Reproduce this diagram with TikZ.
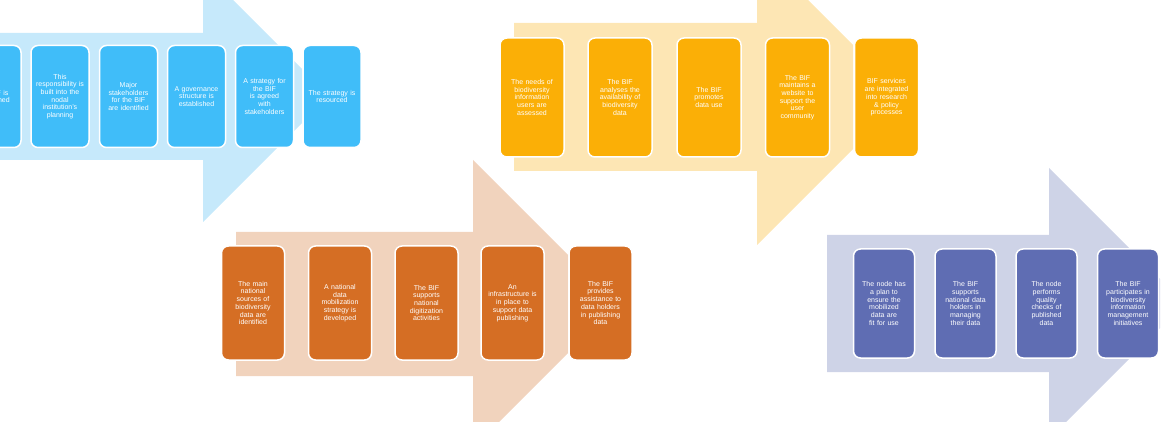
\documentclass[tikz,border=0pt]{standalone}
\usepackage{fontspec}
\setmainfont{Liberation Sans}
\definecolor{bA}{HTML}{C6E9FB}\definecolor{bB}{HTML}{40BDF9}
\definecolor{oA}{HTML}{FDE6B4}\definecolor{oB}{HTML}{FBAF06}
\definecolor{rA}{HTML}{F1D3BD}\definecolor{rB}{HTML}{D56E24}
\definecolor{pA}{HTML}{CED3E7}\definecolor{pB}{HTML}{5F6DB3}
\begin{document}
\begin{tikzpicture}[x=1pt,y=-1pt,
  box/.style={draw=white,line width=1.5pt,rounded corners=7pt,text=white,align=center,
    font=\fontsize{7}{7.7}\selectfont,inner sep=1pt},
  bbox/.style={box,fill=bB,minimum width=58pt,minimum height=102pt,text width=56pt},
  obox/.style={box,fill=oB,minimum width=64pt,minimum height=119pt,text width=60pt},
  rbox/.style={box,fill=rB,minimum width=63pt,minimum height=114pt,text width=60pt},
  pbox/.style={box,fill=pB,minimum width=61pt,minimum height=109pt,text width=58pt}]
\useasboundingbox (0,0) rectangle (1170,422);
\clip (0,0) rectangle (1170,422);
\fill[bA] (-5,33)--(203,33)--(203,-30)--(302,69)--(302,123)--(203,222)--(203,160)--(-5,160)--cycle;
\fill[oA] (514,23)--(757,23)--(757,-51)--(853,45)--(853,149)--(757,245)--(757,171)--(514,171)--cycle;
\fill[rA] (236,232)--(473,232)--(473,160)--(568,255)--(568,353)--(473,448)--(473,376)--(236,376)--cycle;
\fill[pA] (827,235)--(1049,235)--(1049,168)--(1160,279)--(1160,328)--(1049,439)--(1049,372)--(827,372)--cycle;
% blue
\node[bbox] (b1) at (-8,96.5) {The BIF is\\established};
\node[bbox] (b2) at (60,96.5) {This\\responsibility is\\built into the\\nodal\\institution's\\planning};
\node[bbox] (b3) at (128.5,96.5) {Major\\stakeholders\\for the BIF\\are identified};
\node[bbox] (b4) at (196.5,96.5) {A governance\\structure is\\established};
\node[bbox] (b5) at (264.5,96.5) {A strategy for\\the BIF\\is agreed\\with\\stakeholders};
\node[bbox] (b6) at (332,96.5) {The strategy is\\resourced};
% orange
\node[obox] (o1) at (532,97.5) {The needs of\\biodiversity\\information\\users are\\assessed};
\node[obox] (o2) at (620,97.5) {The BIF\\analyses the\\availability of\\biodiversity\\data};
\node[obox] (o3) at (709,97.5) {The BIF\\promotes\\data use};
\node[obox] (o4) at (797.5,97.5) {The BIF\\maintains a\\website to\\support the\\user\\community};
\node[obox] (o5) at (886.5,97.5) {BIF services\\are integrated\\into research\\\& policy\\processes};
% brown
\node[rbox] (r1) at (253,303) {The main\\national\\sources of\\biodiversity\\data are\\identified};
\node[rbox] (r2) at (340,303) {A national\\data\\mobilization\\strategy is\\developed};
\node[rbox] (r3) at (426.5,303) {The BIF\\supports\\national\\digitization\\activities};
\node[rbox] (r4) at (512.5,303) {An\\infrastructure is\\in place to\\support data\\publishing};
\node[rbox] (r5) at (600.5,303) {The BIF\\provides\\assistance to\\data holders\\in publishing\\data};
% purple
\node[pbox] (p1) at (884,303.5) {The node has\\a plan to\\ensure the\\mobilized\\data are\\fit for use};
\node[pbox] (p2) at (965.5,303.5) {The BIF\\supports\\national data\\holders in\\managing\\their data};
\node[pbox] (p3) at (1046.5,303.5) {The node\\performs\\quality\\checks of\\published\\data};
\node[pbox] (p4) at (1128,303.5) {The BIF\\participates in\\biodiversity\\information\\management\\initiatives};
\end{tikzpicture}
\end{document}
